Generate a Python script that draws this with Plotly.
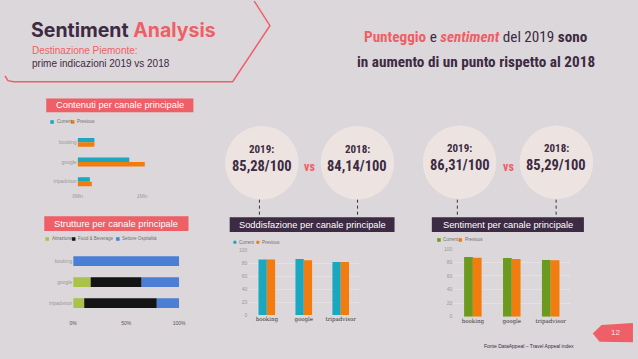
import plotly.graph_objects as go

W, H = 638, 359
BG = "#dcd7da"
CORAL = "#ee5f67"
DARK = "#3c2b42"
TEAL = "#19a8c0"
ORANGE = "#f27c0e"
GREEN = "#6b9a1e"
LIME = "#a8c24a"
BLACK = "#141414"
BLUE = "#4b7fd6"
CIRCLE = "#ede4e1"
GRAYTXT = "#9a9a9a"
NARROW = "Liberation Sans Narrow, Arial Narrow, Roboto Condensed, Roboto, sans-serif"
SANS = "Liberation Sans, Arial, sans-serif"

# ---------------- data ----------------
channels = ["booking", "google", "tripadvisor"]
series_names = ["Current", "Previous"]
contenuti_current = [0.26, 0.80, 0.19]
contenuti_previous = [0.26, 1.04, 0.22]
contenuti_ticks = [0, 1]
contenuti_ticktext = ["0Mln", "1Mln"]
strutture_names = ["Attrazione", "Food & Beverage", "Settore Ospitalità"]
strutture_attrazione = [0, 16.5, 10.4]
strutture_food = [0, 48.1, 68.5]
strutture_ospitalita = [100, 35.4, 21.1]
strutture_ticks = [0, 50, 100]
strutture_ticktext = ["0%", "50%", "100%"]
soddisfazione_current = [86, 87, 82]
soddisfazione_previous = [86, 85, 82]
sentiment_current = [88, 86.5, 83.5]
sentiment_previous = [87, 85, 83]
score_ticks = [0, 20, 40, 60, 80, 100]
punteggio_years = ["2019:", "2018:"]
soddisfazione_scores = ["85,28/100", "84,14/100"]
sentiment_scores = ["86,31/100", "85,29/100"]


def fx(p):
    return p / W


def fy(p):
    return 1 - p / H


fig = go.Figure()

# Chart 1: Contenuti (horizontal grouped)
for name, vals, col in zip(series_names, [contenuti_current, contenuti_previous], [TEAL, ORANGE]):
    fig.add_trace(go.Bar(y=channels, x=vals, orientation="h", name=name, marker_color=col,
                         marker_line_width=0, xaxis="x", yaxis="y", showlegend=False, hoverinfo="skip"))

# Chart 2: Strutture (100% stacked via base)
bases = [[0] * 3, strutture_attrazione,
         [a + b for a, b in zip(strutture_attrazione, strutture_food)]]
for name, vals, base, col in zip(strutture_names,
                                 [strutture_attrazione, strutture_food, strutture_ospitalita],
                                 bases, [LIME, BLACK, BLUE]):
    fig.add_trace(go.Bar(y=channels, x=vals, base=base, orientation="h", name=name, marker_color=col,
                         marker_line_width=0, offsetgroup="s", width=0.47,
                         xaxis="x2", yaxis="y2", showlegend=False, hoverinfo="skip"))

# Chart 3: Soddisfazione
for name, vals, col in zip(series_names, [soddisfazione_current, soddisfazione_previous], [TEAL, ORANGE]):
    fig.add_trace(go.Bar(x=channels, y=vals, name=name, marker_color=col, marker_line_width=0,
                         xaxis="x3", yaxis="y3", showlegend=False, hoverinfo="skip"))

# Chart 4: Sentiment
for name, vals, col in zip(series_names, [sentiment_current, sentiment_previous], [GREEN, ORANGE]):
    fig.add_trace(go.Bar(x=channels, y=vals, name=name, marker_color=col, marker_line_width=0,
                         xaxis="x4", yaxis="y4", showlegend=False, hoverinfo="skip"))

tick_small = dict(size=5, color=GRAYTXT, family=SANS)
cat_dark = dict(size=5.5, color="#333333", family="DejaVu Serif, serif")

shapes = []
annotations = []


def text(x, y, t, size, color=DARK, family=SANS, xanchor="center", yanchor="middle"):
    annotations.append(dict(x=fx(x), y=fy(y), xref="paper", yref="paper", text=t, showarrow=False,
                            xanchor=xanchor, yanchor=yanchor, font=dict(size=size, color=color, family=family)))


def box(x0, y0, x1, y1, color, label):
    shapes.append(dict(type="rect", xref="paper", yref="paper", x0=fx(x0), x1=fx(x1), y0=fy(y1), y1=fy(y0),
                       fillcolor=color, line_width=0, layer="below"))
    text((x0 + x1) / 2, (y0 + y1) / 2, label, 9.3, "white")


def legend(xs, y, names, colors, symbol="rect"):
    for x, n, c in zip(xs, names, colors):
        s = 1.8
        shapes.append(dict(type=symbol, xref="paper", yref="paper", x0=fx(x - s), x1=fx(x + s),
                           y0=fy(y + s), y1=fy(y - s), fillcolor=c, line_width=0))
        text(x + 2.5, y, n, 4.5, "#707070", xanchor="left")


# Title
text(24, 27, "<b><span style='color:%s'>Sentiment</span> <span style='color:%s'>Analysis</span></b>" % (DARK, CORAL),
     19.5, DARK, "Inter, Noto Sans, sans-serif", xanchor="left")
text(25, 48, "Destinazione Piemonte:", 10, CORAL, xanchor="left")
text(25, 62, "prime indicazioni 2019 vs 2018", 10, DARK, xanchor="left")

# pink outline
pts = [(0, 74), (3, 79), (9, 80), (232, 80), (270, 23), (254, -2)]
path = "M " + " L ".join("%.5f,%.5f" % (fx(a), fy(b)) for a, b in pts)
shapes.append(dict(type="path", xref="paper", yref="paper", path=path, line=dict(color=CORAL, width=1.5)))

# Right heading
text(480, 34.5, "<b><span style='color:%s'>Punteggio</span></b> e <b><i><span style='color:%s'>sentiment</span></i></b> del 2019 <b>sono</b>" % (CORAL, CORAL),
     15.2, DARK, NARROW)
text(480, 60, "<b>in aumento di un punto rispetto al 2018</b>", 15.2, DARK, NARROW)

# Header boxes
box(42, 97, 192, 111, CORAL, "Contenuti per canale principale")
box(40, 217, 187, 232, CORAL, "Strutture per canale principale")
box(229, 218, 397, 233, DARK, "Soddisfazione per canale principale")
box(435, 218, 590, 233, DARK, "Sentiment per canale principale")

# Circles
circle_groups = [((261.8, 359.2), 162.5, soddisfazione_scores, 310, (259.3, 359.3)),
                 ((463.3, 562.0), 162.0, sentiment_scores, 513.3, (461, 561.7))]
r = 37.5
for cxs, cy, scores, vsx, dots in circle_groups:
    for cx, yr, sc, dx in zip(cxs, punteggio_years, scores, dots):
        shapes.append(dict(type="circle", xref="paper", yref="paper", x0=fx(cx - r), x1=fx(cx + r),
                           y0=fy(cy + r), y1=fy(cy - r), fillcolor=CIRCLE, line_width=0, layer="below"))
        text(cx, cy - 14, "<b>%s</b>" % yr, 11, DARK, NARROW)
        text(cx, cy + 3.5, "<b>%s</b>" % sc, 14.5, DARK, NARROW)
        shapes.append(dict(type="line", xref="paper", yref="paper", x0=fx(dx), x1=fx(dx),
                           y0=fy(200), y1=fy(217.5), line=dict(color=DARK, width=1, dash="dot")))
    text(vsx, cy + 4.5, "<b>vs</b>", 12, CORAL, NARROW)

# Legends
legend([48, 69], 121, series_names, [TEAL, ORANGE])
legend([43, 70, 115], 240, strutture_names, [LIME, BLACK, BLUE])
legend([234.3, 257.7], 243.3, series_names, [TEAL, ORANGE], "circle")
legend([442.3, 464], 241, series_names, [GREEN, ORANGE])

# Footer & page tag
text(534, 349.3, "Fonte DataAppeal – Travel Appeal index", 5, DARK)
tag = [(599, 336), (608, 327.5), (640, 325.5), (640, 345), (606, 344.5)]
shapes.append(dict(type="path", xref="paper", yref="paper",
                   path="M " + " L ".join("%.5f,%.5f" % (fx(a), fy(b)) for a, b in tag) + " Z",
                   fillcolor=CORAL, line_width=0))
text(622, 335.5, "12", 8, "#ffe0e0")

common = dict(showgrid=False, zeroline=False, showline=False, fixedrange=True)

fig.update_layout(
    width=W, height=H, margin=dict(l=0, r=0, t=0, b=0),
    paper_bgcolor=BG, plot_bgcolor="rgba(0,0,0,0)",
    barmode="group", bargap=0.55, bargroupgap=0,
    showlegend=False,
    xaxis=dict(domain=[fx(74), fx(153)], range=[0, 1.2], tickvals=contenuti_ticks, ticktext=contenuti_ticktext,
               tickfont=tick_small, anchor="y", **common),
    yaxis=dict(domain=[fy(191.8), fy(131.7)], type="category", categoryarray=channels, range=[2.5, -0.5],
               tickfont=tick_small, anchor="x", **common),
    xaxis2=dict(domain=[fx(69.5), fx(177.5)], range=[0, 100], tickvals=strutture_ticks, ticktext=strutture_ticktext,
                tickfont=dict(size=5, color="#555555", family=SANS), anchor="y2", **common),
    yaxis2=dict(domain=[fy(320.9), fy(251.8)], type="category", categoryarray=channels, range=[2.73, -0.5],
                tickfont=tick_small, anchor="x2", **common),
    xaxis3=dict(domain=[fx(248), fx(361)], type="category", categoryarray=channels, range=[-0.5, 2.5],
                tickfont=cat_dark, anchor="y3", **common),
    yaxis3=dict(domain=[fy(317.3), fy(251.7)], range=[0, 100], tickvals=score_ticks, tickfont=tick_small,
                anchor="x3", showgrid=True, gridcolor="rgba(255,255,255,0.25)", gridwidth=0.5,
                zeroline=False, showline=False, fixedrange=True),
    xaxis4=dict(domain=[fx(457), fx(576)], type="category", categoryarray=channels, range=[-0.5, 2.5],
                tickfont=cat_dark, anchor="y4", **common),
    yaxis4=dict(domain=[fy(319), fy(250)], range=[0, 100], tickvals=score_ticks, tickfont=tick_small,
                anchor="x4", showgrid=True, gridcolor="rgba(255,255,255,0.25)", gridwidth=0.5,
                zeroline=False, showline=False, fixedrange=True),
    shapes=shapes, annotations=annotations,
)

fig.write_html("out.html", config={"displayModeBar": False},
               post_script="document.body.style.margin='0';document.body.style.background='%s';" % BG)
